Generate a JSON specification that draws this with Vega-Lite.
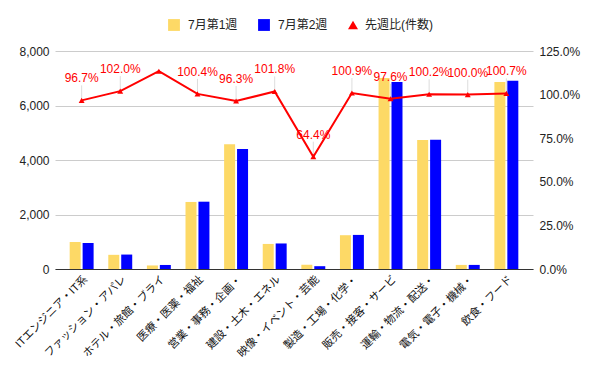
{
  "$schema": "https://vega.github.io/schema/vega-lite/v6.json",
  "width": 478,
  "height": 218,
  "autosize": {"type": "none"},
  "padding": {"left": 55, "top": 51, "right": 67, "bottom": 102},
  "config": {
    "font": "Liberation Sans, Noto Sans CJK JP",
    "view": {"stroke": null},
    "axis": {"labelFont": "Liberation Sans, Noto Sans CJK JP", "labelColor": "#222", "labelFontSize": 12, "ticks": false, "domain": false, "title": null},
    "legend": {"labelFont": "Liberation Sans, Noto Sans CJK JP", "labelColor": "#222", "labelFontSize": 12}
  },
  "data": {
    "values": [
      {"cat": "ITエンジニア・IT系", "7月第1週": 990, "7月第2週": 957, "ratio": 0.967},
      {"cat": "ファッション・アパレ", "7月第1週": 520, "7月第2週": 530, "ratio": 1.02},
      {"cat": "ホテル・旅館・ブライ", "7月第1週": 130, "7月第2週": 148, "ratio": 1.134},
      {"cat": "医療・医薬・福祉", "7月第1週": 2460, "7月第2週": 2470, "ratio": 1.004},
      {"cat": "営業・事務・企画・", "7月第1週": 4575, "7月第2週": 4406, "ratio": 0.963},
      {"cat": "建設・土木・エネル", "7月第1週": 920, "7月第2週": 937, "ratio": 1.018},
      {"cat": "映像・イベント・芸能", "7月第1週": 160, "7月第2週": 103, "ratio": 0.644},
      {"cat": "製造・工場・化学・", "7月第1週": 1240, "7月第2週": 1251, "ratio": 1.009},
      {"cat": "販売・接客・サービ", "7月第1週": 7010, "7月第2週": 6862, "ratio": 0.976},
      {"cat": "運輸・物流・配送・", "7月第1週": 4730, "7月第2週": 4740, "ratio": 1.002},
      {"cat": "電気・電子・機械・", "7月第1週": 150, "7月第2週": 150, "ratio": 1.0},
      {"cat": "飲食・フード", "7月第1週": 6860, "7月第2週": 6908, "ratio": 1.007}
    ]
  },
  "layer": [
    {
      "transform": [{"fold": ["7月第1週", "7月第2週"], "as": ["series", "count"]}],
      "mark": {"type": "bar"},
      "encoding": {
        "x": {"field": "cat", "type": "nominal", "sort": null, "scale": {"paddingInner": 0.38, "paddingOuter": 0.38},
          "axis": {"labelAngle": -45, "labelFontSize": 11, "labelColor": "#111", "domain": true, "domainColor": "#333", "labelPadding": 4, "labelLimit": 200}},
        "xOffset": {"field": "series", "type": "nominal", "scale": {"paddingInner": 0.15}},
        "y": {"field": "count", "type": "quantitative", "scale": {"domain": [0, 8000]},
          "axis": {"values": [0, 2000, 4000, 6000, 8000], "format": ",.0f", "grid": true, "gridColor": "#ccc", "labelPadding": 6}},
        "color": {"field": "series", "type": "nominal",
          "scale": {"domain": ["7月第1週", "7月第2週"], "range": ["#fdd966", "#0000ff"]},
          "legend": {"title": null, "orient": "none", "legendX": 113, "legendY": -32, "direction": "horizontal", "symbolType": "square", "symbolSize": 140, "symbolStrokeWidth": 0, "columnPadding": 20, "labelOffset": 8}}
      }
    },
    {
      "encoding": {
        "x": {"field": "cat", "type": "nominal", "sort": null},
        "y": {"field": "ratio", "type": "quantitative", "scale": {"domain": [0, 1.25]},
          "axis": {"orient": "right", "format": ".1%", "values": [0, 0.25, 0.5, 0.75, 1, 1.25], "grid": false, "labelPadding": 6}}
      },
      "layer": [
        {
          "transform": [{"filter": "datum.cat !== 'ホテル・旅館・ブライ'"}],
          "mark": {"type": "rule", "color": "#ddd", "strokeWidth": 1, "y2Offset": -15},
          "encoding": {"y2": {"field": "ratio"}}
        },
        {
          "mark": {"type": "line", "color": "red", "strokeWidth": 2},
          "encoding": {}
        },
        {
          "mark": {"type": "point", "filled": true, "size": 35, "opacity": 1, "color": "red"},
          "encoding": {
            "shape": {"datum": "先週比(件数)", "scale": {"range": ["triangle-up"]},
              "legend": {"title": null, "orient": "none", "legendX": 292, "legendY": -32, "direction": "horizontal", "symbolSize": 100, "symbolFillColor": "red", "symbolStrokeColor": "red", "labelOffset": 6}}
          }
        },
        {
          "transform": [{"filter": "datum.cat !== 'ホテル・旅館・ブライ'"}],
          "mark": {"type": "text", "color": "red", "fontSize": 12, "baseline": "alphabetic", "dy": -18},
          "encoding": {"text": {"field": "ratio", "type": "quantitative", "format": ".1%"}}
        }
      ]
    }
  ],
  "resolve": {"scale": {"y": "independent"}}
}
